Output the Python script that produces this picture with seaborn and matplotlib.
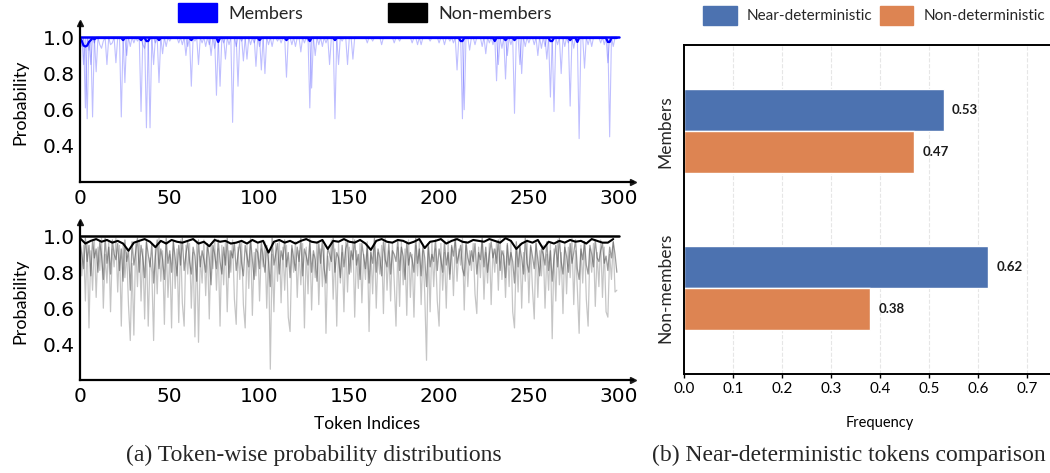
import numpy as np
import pandas as pd
import matplotlib
matplotlib.use("Agg")
import matplotlib.pyplot as plt
import matplotlib.patches as mpatches
import seaborn as sns

# ---------------- data ----------------
n_tokens = 300
tick_vals = [0, 50, 100, 150, 200, 250, 300]
ytick_vals = [0.4, 0.6, 0.8, 1.0]

# Members: thin sample curves given as dips below 1.0
mem_a_idx = [3, 7, 15, 23, 26, 34, 39, 44, 59, 62, 73, 76, 81, 85, 91, 98, 103, 115, 128, 131,
             142, 149, 190, 210, 213, 226, 232, 237, 242, 246, 255, 262, 268, 273, 278, 294]
mem_a_val = [0.61, 0.56, 0.85, 0.56, 0.90, 0.59, 0.50, 0.75, 0.90, 0.73, 0.90, 0.68, 0.88, 0.53,
             0.87, 0.84, 0.80, 0.78, 0.61, 0.90, 0.55, 0.85, 0.96, 0.82, 0.55, 0.91, 0.76, 0.77,
             0.58, 0.80, 0.90, 0.67, 0.80, 0.62, 0.44, 0.86]
mem_b_idx = [2, 4, 6, 9, 20, 25, 37, 41, 46, 66, 78, 88, 93, 101, 107, 123, 129, 139, 144, 152,
             214, 217, 233, 238, 245, 260, 264, 281, 295]
mem_b_val = [0.85, 0.55, 0.85, 0.81, 0.86, 0.75, 0.50, 0.85, 0.91, 0.85, 0.73, 0.73, 0.88, 0.82,
             0.95, 0.92, 0.72, 0.85, 0.85, 0.88, 0.60, 0.93, 0.85, 0.90, 0.85, 0.88, 0.59, 0.83, 0.45]
mem_c_idx = [1, 5, 8, 11, 12, 13, 17, 18, 28, 30, 32, 35, 36, 42, 48, 50, 55, 57, 60, 64, 68, 70,
             72, 75, 80, 83, 87, 90, 95, 97, 100, 105, 110, 112, 118, 120, 125, 127, 133, 135,
             137, 146, 160, 163, 168, 175, 178, 185, 188, 195, 200, 203, 206, 208, 220, 224,
             228, 230, 235, 240, 248, 250, 253, 257, 259, 266, 270, 272, 275, 283, 285, 290,
             292, 297]
mem_c_val = [0.95, 0.93, 0.97, 0.96, 0.94, 0.98, 0.96, 0.97, 0.95, 0.97, 0.98, 0.96, 0.94, 0.97,
             0.95, 0.98, 0.97, 0.96, 0.95, 0.98, 0.97, 0.95, 0.96, 0.94, 0.97, 0.96, 0.95, 0.98,
             0.96, 0.97, 0.95, 0.96, 0.98, 0.97, 0.96, 0.95, 0.97, 0.98, 0.96, 0.95, 0.97, 0.98,
             0.97, 0.98, 0.96, 0.97, 0.98, 0.97, 0.96, 0.98, 0.97, 0.96, 0.98, 0.97, 0.96, 0.95,
             0.97, 0.96, 0.94, 0.96, 0.95, 0.97, 0.96, 0.94, 0.95, 0.96, 0.95, 0.97, 0.94, 0.96,
             0.95, 0.97, 0.96, 0.95]
mem_mean_idx = [1, 2, 3, 4, 5, 6, 8, 24, 34, 37, 38, 44, 62, 77, 100, 115, 128, 142, 212, 213,
                231, 237, 242, 262, 263, 273, 277, 294, 295]
mem_mean_val = [0.98, 0.955, 0.95, 0.955, 0.975, 0.985, 0.99, 0.985, 0.985, 0.98, 0.98, 0.985,
                0.985, 0.975, 0.985, 0.985, 0.98, 0.985, 0.98, 0.98, 0.98, 0.985, 0.985, 0.98,
                0.98, 0.985, 0.975, 0.975, 0.975]
mem_mean_base = 0.997

# Non-members: two thin sample curves (one value per token)
non_s1 = [1.0, 0.78, 0.95, 0.64, 0.97, 0.49, 0.92, 0.70, 0.98, 0.66,
          0.94, 0.81, 0.99, 0.60, 0.90, 0.74, 0.97, 0.58, 0.93, 0.83,
          0.99, 0.69, 0.95, 0.50, 0.96, 0.77, 0.91, 0.62, 0.42, 0.85,
          0.45, 0.96, 0.72, 0.98, 0.64, 0.93, 0.54, 0.97, 0.50, 0.88,
          0.80, 0.42, 0.94, 0.68, 0.99, 0.75, 0.92, 0.51, 0.96, 0.66,
          0.90, 0.49, 0.97, 0.71, 0.93, 0.52, 0.98, 0.63, 0.50, 0.95,
          0.79, 0.96, 0.60, 0.91, 0.44, 0.97, 0.41, 0.89, 0.74, 0.98,
          0.67, 0.94, 0.54, 0.96, 0.82, 0.99, 0.70, 0.93, 0.50, 0.95,
          0.73, 0.97, 0.58, 0.92, 0.80, 0.98, 0.65, 0.51, 0.94, 0.76,
          0.97, 0.62, 0.49, 0.95, 0.71, 0.99, 0.56, 0.91, 0.78, 0.96,
          0.64, 0.93, 0.83, 0.97, 0.60, 0.92, 0.26, 0.90, 0.58, 0.96,
          0.75, 0.98, 0.63, 0.94, 0.70, 0.95, 0.55, 0.47, 0.93, 0.80,
          0.97, 0.66, 0.92, 0.73, 0.96, 0.49, 0.94, 0.68, 0.99, 0.59,
          0.90, 0.77, 0.97, 0.62, 0.93, 0.72, 0.95, 0.46, 0.89, 0.81,
          0.98, 0.65, 0.93, 0.50, 0.96, 0.74, 0.91, 0.58, 0.97, 0.69,
          0.94, 0.80, 0.99, 0.55, 0.92, 0.71, 0.96, 0.63, 0.90, 0.76,
          0.97, 0.47, 0.93, 0.68, 0.98, 0.60, 0.91, 0.79, 0.95, 0.57,
          0.99, 0.70, 0.92, 0.64, 0.96, 0.75, 0.50, 0.94, 0.61, 0.97,
          0.73, 0.93, 0.56, 0.98, 0.66, 0.90, 0.55, 0.95, 0.78, 0.97,
          0.62, 0.92, 0.68, 0.31, 0.94, 0.58, 0.97, 0.72, 0.93, 0.64,
          0.50, 0.96, 0.70, 0.91, 0.60, 0.98, 0.79, 0.94, 0.67, 0.97,
          0.75, 0.93, 0.84, 0.99, 0.59, 0.95, 0.72, 0.92, 0.81, 0.96,
          0.68, 0.57, 0.94, 0.77, 0.98, 0.65, 0.91, 0.74, 0.96, 0.62,
          0.93, 0.80, 0.97, 0.70, 0.99, 0.76, 0.92, 0.66, 0.95, 0.72,
          0.97, 0.58, 0.49, 0.93, 0.69, 0.96, 0.60, 0.91, 0.75, 0.98,
          0.63, 0.94, 0.71, 0.54, 0.97, 0.66, 0.92, 0.78, 0.95, 0.60,
          0.90, 0.70, 0.96, 0.43, 0.93, 0.64, 0.98, 0.73, 0.91, 0.57,
          0.96, 0.68, 0.94, 0.77, 0.99, 0.62, 0.92, 0.71, 0.46, 0.95,
          0.74, 0.97, 0.65, 0.50, 0.93, 0.80, 0.96, 0.61, 0.91, 0.72,
          0.98, 0.66, 0.94, 0.58, 0.55, 0.90, 0.76, 0.97, 0.69, 0.70]
non_s2 = [0.97, 0.90, 0.82, 0.99, 0.86, 0.95, 0.78, 0.98, 0.88, 0.93,
          0.80, 0.97, 0.89, 0.76, 0.99, 0.85, 0.94, 0.79, 0.98, 0.90,
          0.87, 0.96, 0.81, 0.93, 0.75, 0.98, 0.86, 0.92, 0.70, 0.97,
          0.84, 0.91, 0.99, 0.80, 0.95, 0.88, 0.77, 0.97, 0.90, 0.83,
          0.96, 0.74, 0.89, 0.98, 0.82, 0.93, 0.87, 0.76, 0.99, 0.85,
          0.92, 0.80, 0.97, 0.88, 0.78, 0.95, 0.84, 0.99, 0.81, 0.90,
          0.97, 0.86, 0.79, 0.94, 0.89, 0.75, 0.98, 0.83, 0.92, 0.87,
          0.80, 0.96, 0.88, 0.73, 0.95, 0.90, 0.82, 0.98, 0.86, 0.79,
          0.94, 0.84, 0.99, 0.77, 0.92, 0.88, 0.96, 0.81, 0.90, 0.97,
          0.85, 0.78, 0.95, 0.89, 0.83, 0.98, 0.87, 0.76, 0.93, 0.91,
          0.82, 0.97, 0.88, 0.80, 0.95, 0.86, 0.72, 0.99, 0.84, 0.90,
          0.96, 0.79, 0.92, 0.87, 0.98, 0.83, 0.91, 0.77, 0.95, 0.88,
          0.81, 0.94, 0.86, 0.99, 0.78, 0.93, 0.89, 0.84, 0.97, 0.80,
          0.92, 0.87, 0.75, 0.96, 0.85, 0.98, 0.82, 0.74, 0.94, 0.90,
          0.86, 0.99, 0.80, 0.91, 0.88, 0.77, 0.95, 0.83, 0.93, 0.97,
          0.79, 0.92, 0.87, 0.98, 0.84, 0.90, 0.76, 0.96, 0.89, 0.82,
          0.95, 0.74, 0.91, 0.85, 0.99, 0.80, 0.93, 0.88, 0.78, 0.97,
          0.87, 0.83, 0.96, 0.79, 0.92, 0.90, 0.86, 0.98, 0.81, 0.94,
          0.89, 0.76, 0.97, 0.84, 0.91, 0.87, 0.80, 0.99, 0.85, 0.93,
          0.78, 0.95, 0.88, 0.72, 0.96, 0.83, 0.90, 0.86, 0.98, 0.81,
          0.93, 0.87, 0.80, 0.97, 0.84, 0.91, 0.76, 0.95, 0.89, 0.99,
          0.85, 0.90, 0.95, 0.82, 0.78, 0.97, 0.88, 0.84, 0.92, 0.86,
          0.96, 0.79, 0.91, 0.87, 0.99, 0.83, 0.94, 0.80, 0.90, 0.97,
          0.88, 0.93, 0.85, 0.98, 0.81, 0.92, 0.89, 0.77, 0.96, 0.84,
          0.91, 0.86, 0.74, 0.97, 0.83, 0.94, 0.88, 0.79, 0.99, 0.85,
          0.80, 0.95, 0.89, 0.82, 0.96, 0.87, 0.78, 0.93, 0.90, 0.84,
          0.97, 0.81, 0.92, 0.75, 0.88, 0.95, 0.83, 0.99, 0.86, 0.79,
          0.94, 0.89, 0.80, 0.96, 0.85, 0.91, 0.98, 0.82, 0.76, 0.93,
          0.87, 0.97, 0.84, 0.79, 0.95, 0.90, 0.83, 0.98, 0.88, 0.86,
          0.92, 0.96, 0.85, 0.89, 0.81, 0.94, 0.88, 0.97, 0.90, 0.80]
# Non-members mean curve, read every 3 tokens
non_mean_step = 3
non_mean = [0.99, 0.96, 0.975, 0.985, 0.97, 0.98, 0.965, 0.975, 0.96, 0.92,
            0.965, 0.975, 0.985, 0.97, 0.94, 0.975, 0.96, 0.98, 0.97, 0.965,
            0.975, 0.985, 0.96, 0.97, 0.945, 0.98, 0.97, 0.975, 0.96, 0.965,
            0.975, 0.96, 0.98, 0.965, 0.975, 0.91, 0.97, 0.98, 0.965, 0.975,
            0.96, 0.975, 0.985, 0.97, 0.965, 0.98, 0.93, 0.975, 0.97, 0.985,
            0.97, 0.965, 0.98, 0.96, 0.925, 0.975, 0.985, 0.97, 0.965, 0.98,
            0.975, 0.96, 0.97, 0.985, 0.935, 0.97, 0.975, 0.985, 0.96, 0.975,
            0.985, 0.97, 0.965, 0.98, 0.975, 0.97, 0.985, 0.975, 0.965, 0.99,
            0.975, 0.93, 0.96, 0.975, 0.965, 0.98, 0.93, 0.97, 0.96, 0.975,
            0.965, 0.98, 0.97, 0.975, 0.96, 0.985, 0.975, 0.965, 0.965, 0.985]
top_line_x = [0, 300]
top_line_y = [1.0, 1.0]

# Bar chart
bar_groups = ["Members", "Members", "Non-members", "Non-members"]
bar_kinds = ["Near-deterministic", "Non-deterministic", "Near-deterministic", "Non-deterministic"]
bar_freq = [0.53, 0.47, 0.62, 0.38]
bar_colors = ["#4c72b0", "#dd8452"]
bar_xticks = [0.0, 0.1, 0.2, 0.3, 0.4, 0.5, 0.6, 0.7]

# ---------------- style ----------------
sns.set_theme(style="white")
plt.rcParams["font.family"] = ["DejaVu Sans"]
LABEL_FONT = ["Lato", "DejaVu Sans"]
SERIF = ["Liberation Serif", "DejaVu Serif"]

W, H = 1050, 473
fig = plt.figure(figsize=(W / 100, H / 100), dpi=100)


def px_axes(l, t, r, b):
    return fig.add_axes([l / W, 1 - b / H, (r - l) / W, (b - t) / H])


def dips(base, idx, val):
    arr = np.full(n_tokens, base)
    for i, v in zip(idx, val):
        arr[i] = v
    return arr


def style_left(ax):
    ax.set_xlim(0, 308)
    ax.set_ylim(0.2, 1.08)
    ax.set_xticks(tick_vals)
    ax.set_yticks(ytick_vals)
    ax.set_yticklabels([f"{v:.1f}" for v in ytick_vals])
    for s in ["top", "right"]:
        ax.spines[s].set_visible(False)
    for s in ["left", "bottom"]:
        ax.spines[s].set_color("black")
        ax.spines[s].set_linewidth(1.6)
    ax.tick_params(axis="both", labelsize=14.5, length=3, width=1, colors="black", pad=2)
    ax.tick_params(axis="y", length=0, pad=4)
    ax.plot(1, 0, ">k", transform=ax.transAxes, clip_on=False, markersize=5)
    ax.plot(0, 1, "^k", transform=ax.transAxes, clip_on=False, markersize=5)
    ax.set_ylabel("Probability", fontsize=13, family=LABEL_FONT, color="black")
    ax.yaxis.set_label_coords(-0.093, 0.5)
    ax.set_xlabel("")


tok = np.arange(n_tokens)

# ---- top: members ----
ax1 = px_axes(80, 23, 633, 182)
for idx, val in [(mem_c_idx, mem_c_val), (mem_b_idx, mem_b_val), (mem_a_idx, mem_a_val)]:
    df = pd.DataFrame({"token": tok, "prob": dips(1.0, idx, val)})
    sns.lineplot(data=df, x="token", y="prob", ax=ax1, color="#0000ff", lw=0.8, alpha=0.25,
                 estimator=None)
sns.lineplot(x=top_line_x, y=top_line_y, ax=ax1, color="#0000ff", lw=1.8, estimator=None)
df = pd.DataFrame({"token": tok, "prob": dips(mem_mean_base, mem_mean_idx, mem_mean_val)})
sns.lineplot(data=df, x="token", y="prob", ax=ax1, color="#0000ff", lw=1.6, estimator=None)
style_left(ax1)

# ---- bottom: non-members ----
ax2 = px_axes(80, 222, 633, 380)
for series, col, al in [(non_s1, "#808080", 0.45), (non_s2, "#3c3c3c", 0.5)]:
    df = pd.DataFrame({"token": tok, "prob": series})
    sns.lineplot(data=df, x="token", y="prob", ax=ax2, color=col, lw=0.9, alpha=al,
                 estimator=None)
sns.lineplot(x=top_line_x, y=top_line_y, ax=ax2, color="black", lw=1.8, estimator=None)
mx = np.arange(len(non_mean)) * non_mean_step
sns.lineplot(x=mx, y=non_mean, ax=ax2, color="black", lw=1.5, estimator=None)
style_left(ax2)
ax2.set_xlabel("Token Indices", fontsize=12.5, family=LABEL_FONT, color="black")
ax2.xaxis.set_label_coords(0.52, -0.225)

# legend for left part
h_mem = mpatches.Patch(color="#0000ff", label="Members")
h_non = mpatches.Patch(color="black", label="Non-members")
fig.legend(handles=[h_mem, h_non], loc="upper left", bbox_to_anchor=(178 / W, 1 - 3 / H),
           ncol=2, frameon=False, prop={"family": LABEL_FONT, "size": 13},
           borderpad=0, borderaxespad=0,
           handlelength=2.15, handleheight=1.25, columnspacing=4.7, handletextpad=0.65)

# ---- right: bar chart ----
axr = px_axes(684, 45, 1076, 374)
bar_df = pd.DataFrame({"group": bar_groups, "kind": bar_kinds, "freq": bar_freq})
sns.barplot(data=bar_df, y="group", x="freq", hue="kind", orient="h", width=0.54,
            palette=bar_colors, saturation=1, edgecolor="white", linewidth=1.0, ax=axr,
            legend=False)
axr.set_xlim(0, 0.8)
axr.set_ylim(1.55, -0.55)
axr.set_xticks(bar_xticks)
axr.set_xticklabels([f"{v:.1f}" for v in bar_xticks], family=LABEL_FONT, fontsize=11)
axr.tick_params(axis="x", length=3, width=1, colors="black", pad=3, direction="out",
                bottom=True)
axr.tick_params(axis="y", length=0, pad=8, labelsize=12.5, labelrotation=90)
for lab in axr.get_yticklabels():
    lab.set_family(LABEL_FONT)
    lab.set_va("center")
for xv in [0.1, 0.2, 0.3, 0.4, 0.5, 0.6, 0.7]:
    axr.axvline(xv, linestyle="--", color="#e6e6e6", linewidth=0.8, zorder=0)
axr.set_axisbelow(True)
for s in axr.spines.values():
    s.set_visible(True)
    s.set_color("black")
    s.set_linewidth(1.4)
axr.set_ylabel("")
axr.set_xlabel("Frequency", family=LABEL_FONT, fontsize=10.5, color="black", labelpad=14)
for cont in axr.containers:
    axr.bar_label(cont, fmt="%.2f", padding=6, fontsize=9.5, fontweight="bold",
                  family=LABEL_FONT, color="#1a1a1a")

h_nd = mpatches.Patch(color=bar_colors[0], label="Near-deterministic")
h_nn = mpatches.Patch(color=bar_colors[1], label="Non-deterministic")
fig.legend(handles=[h_nd, h_nn], loc="upper left", bbox_to_anchor=(703 / W, 1 - 6 / H), ncol=2,
           frameon=False, prop={"family": LABEL_FONT, "size": 11},
           borderpad=0, borderaxespad=0,
           handlelength=2.2, handleheight=1.5, columnspacing=0.5, handletextpad=0.65)

# captions
fig.text(314 / W, 1 - 461 / H, "(a) Token-wise probability distributions", ha="center",
         va="baseline", family=SERIF, fontsize=17)
fig.text(652 / W, 1 - 461 / H, "(b) Near-deterministic tokens comparison", ha="left",
         va="baseline", family=SERIF, fontsize=17)

fig.savefig("out.png", dpi=100)
